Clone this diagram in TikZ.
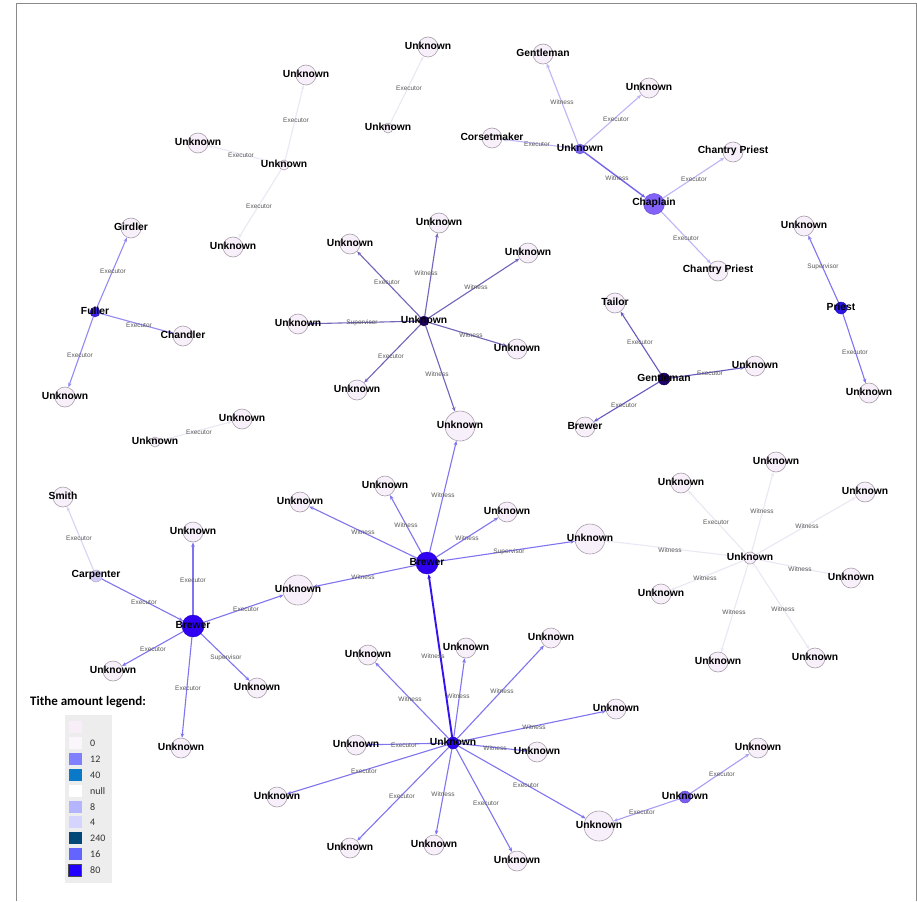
\documentclass[tikz,border=0pt]{standalone}
\usepackage{fontspec}
\setmainfont{Liberation Sans}
\newfontfamily\legfont{Carlito}
\usetikzlibrary{arrows.meta}
\pgfdeclarelayer{bglayer}
\pgfdeclarelayer{edgelayer}
\pgfsetlayers{bglayer,edgelayer,main}

\definecolor{nfill}{HTML}{F7EFF9}
\definecolor{nborder}{HTML}{A89EAA}
\definecolor{ePale}{HTML}{ECE7F4}
\definecolor{eLight}{HTML}{BDB5F5}
\definecolor{eMid}{HTML}{8074F0}
\definecolor{eGray}{HTML}{7463B8}
\definecolor{eCz}{HTML}{7464E8}
\definecolor{eThick}{HTML}{3414EE}
\definecolor{eMm}{HTML}{A89EF4}
\definecolor{eCS}{HTML}{D8D3F3}
\definecolor{legbg}{HTML}{EDEDED}
\definecolor{frameclr}{HTML}{8A8A8A}

\tikzset{
  nd/.style={circle, draw=nborder, fill=nfill, line width=0.6pt, inner sep=0pt},
  fnd/.style={circle, draw=#1!80!black, fill=#1, line width=0.4pt, inner sep=0pt},
  lbl/.style={font=\fontsize{10.3}{12}\selectfont\bfseries, inner sep=0pt, text=black},
  elab/.style={font=\fontsize{6.5}{7}\selectfont, text=black!65, inner sep=0pt},
  eg/.style={line width=1.1pt, -{Stealth[length=4.5pt,width=3.6pt]}},
  swatch/.style={minimum width=13pt, minimum height=12pt, inner sep=0pt, fill=#1},
  legnum/.style={font=\legfont\fontsize{10}{12}\selectfont, text=black!80, inner sep=0pt, anchor=west}
}

\begin{document}
\begin{tikzpicture}[x=1pt, y=-1pt]
\useasboundingbox (0,0) rectangle (917,901);
\begin{pgfonlayer}{bglayer}
\fill[white] (0,0) rectangle (917,901);
\end{pgfonlayer}
\draw[frameclr, line width=1pt] (16,901) -- (16,3.5) -- (916,3.5) -- (916,901);

% light nodes
\foreach \n/\x/\y/\sz/\t in {
 A1/428/47/20/Unknown, A2/388/128/10/Unknown,
 B1/306/75/20/Unknown, B2/284/165/10/Unknown, B3/198/143/20/Unknown, B4/233/247/20/Unknown,
 C1/543/54/20/Gentleman, C2/649/88/20/Unknown, C3/492/138/20/Corsetmaker,
 C5/733/152/20/Chantry Priest, C6/718/271/20/Chantry Priest,
 D1/804/226/20/Unknown, D2/869/393/20/Unknown,
 E1/131/228/20/Girdler, E2/183/336/20/Chandler, E3/65/397/20/Unknown,
 F1/242/419/20/Unknown, F2/155/442/10/Unknown,
 G1/439/223/20/Unknown, G2/350/244/20/Unknown, G3/528/253/20/Unknown, G4/298/324/20/Unknown,
 G5/517/349/20/Unknown, G6/357/390/20/Unknown, G7/460/426/30/Unknown,
 H1/615/303/20/Tailor, H2/755/366/20/Unknown, H3/585/427/20/Brewer,
 I1/385/486/20/Unknown, I2/300/502/20/Unknown, I3/507/512/20/Unknown, I4/590/539/30/Unknown, I5/298/590/30/Unknown,
 J0/750/558/12/Unknown, J1/776/462/20/Unknown, J2/681/483/20/Unknown, J3/865/492/20/Unknown,
 J4/851/578/20/Unknown, J5/661/594/20/Unknown, J6/718/662/20/Unknown, J7/815/658/20/Unknown,
 K2/63/497/20/Smith, K3/193/532/20/Unknown, K4/113/671/20/Unknown, K5/257/688/20/Unknown, K6/181/748/20/Unknown,
 L1/368/655/20/Unknown, L2/466/648/20/Unknown, L3/551/638/20/Unknown, L4/616/709/20/Unknown,
 L5/537/752/20/Unknown, L6/356/745/20/Unknown, L7/277/797/20/Unknown, L8/350/848/20/Unknown,
 L9/434/845/20/Unknown, L10/517/861/20/Unknown, L11/599/826/30/Unknown,
 M1/758/748/20/Unknown}
{
  \node[nd, minimum size=\sz pt] (\n) at (\x,\y) {};
}

% filled nodes
\definecolor{cC0}{HTML}{7B68F0}
\definecolor{cC4}{HTML}{8262F8}
\definecolor{cD0}{HTML}{2A14E6}
\definecolor{cE0}{HTML}{3A22E4}
\definecolor{cG0}{HTML}{200060}
\definecolor{cH0}{HTML}{1E0066}
\definecolor{cI0}{HTML}{3000F2}
\definecolor{cK1}{HTML}{D2CDF6}
\definecolor{cL0}{HTML}{2A04EA}
\definecolor{cM0}{HTML}{7A5CF0}
\node[fnd=cC0, minimum size=10pt] (C0) at (580,149) {};
\node[fnd=cC4, minimum size=21pt] (C4) at (654,204) {};
\node[fnd=cD0, minimum size=12pt] (D0) at (841,308) {};
\node[fnd=cE0, minimum size=10pt] (E0) at (95,312) {};
\node[fnd=cG0, minimum size=10pt] (G0) at (424,321) {};
\node[fnd=cH0, minimum size=12pt] (H0) at (664,379) {};
\node[fnd=cI0, minimum size=22pt] (I0) at (427,563) {};
\node[fnd=cI0, minimum size=22pt] (K0) at (193,626) {};
\node[fnd=cK1, minimum size=12pt] (K1) at (96,576) {};
\node[fnd=cL0, minimum size=12pt] (L0) at (453,743) {};
\node[fnd=cM0, minimum size=12pt] (M0) at (685,797) {};

% edges
\begin{pgfonlayer}{edgelayer}
\draw[eg, ePale] (A2) -- (A1);
\foreach \t in {B1,B3,B4} \draw[eg, ePale] (B2) -- (\t);
\draw[eg, eLight] (C0) -- (C1);
\draw[eg, eLight] (C0) -- (C2);
\draw[eg, eLight] (C0) -- (C3);
\draw[eg, eCz, line width=1.4pt] (C0) -- (C4);
\draw[eg, eLight] (C4) -- (C5);
\draw[eg, eLight] (C4) -- (C6);
\draw[eg, eMid] (D0) -- (D1);
\draw[eg, eMid] (D0) -- (D2);
\foreach \t in {E1,E2,E3} \draw[eg, eMid!85] (E0) -- (\t);
\draw[eg, ePale] (F2) -- (F1);
\foreach \t in {G1,G2,G3,G4,G5,G6,G7} \draw[eg, eGray] (G0) -- (\t);
\foreach \t in {H1,H2,H3} \draw[eg, eGray!90!blue] (H0) -- (\t);
\foreach \t in {G7,I1,I2,I3,I4,I5} \draw[eg, eMid] (I0) -- (\t);
\foreach \t in {I4,J1,J2,J3,J4,J5,J6,J7} \draw[eg, ePale] (J0) -- (\t);
\draw[eg, eCS] (K1) -- (K2);
\draw[eg, eMid] (K1) -- (K0);
\foreach \t in {K3,I5,K4,K5,K6} \draw[eg, eMid] (K0) -- (\t);
\draw[eg, eThick, line width=1.9pt] (L0) -- (I0);
\foreach \t in {L1,L2,L3,L4,L5,L6,L7,L8,L9,L10,L11} \draw[eg, eMid] (L0) -- (\t);
\draw[eg, eMm] (M0) -- (M1);
\draw[eg, eMm] (M0) -- (L11);
\end{pgfonlayer}

% edge labels
\foreach \x/\y/\t [count=\i] in {
 409/88/Executor, 296/120/Executor, 241/155/Executor, 259/206/Executor,
 562/102/Witness, 616/119/Executor, 537/144/Executor, 617/178/Witness, 694/179/Executor, 686/238/Executor,
 823/267/Supervisor, 855/352/Executor,
 113/271/Executor, 139/325/Executor, 80/355/Executor,
 199/432/Executor,
 426/273/Witness, 387/282/Executor, 476/287/Witness, 362/323/Supervisor, 471/335/Witness, 391/356/Executor, 437/374/Witness,
 640/342/Executor, 710/373/Executor, 624/405/Executor,
 443/495/Witness, 406/525/Witness, 363/532/Witness, 467/538/Witness, 509/552/Supervisor, 363/577/Witness,
 670/550/Witness, 716/522/Executor, 762/511/Witness, 807/526/Witness, 800/569/Witness, 705/578/Witness, 734/612/Witness, 783/609/Witness,
 79/538/Executor, 144/602/Executor, 193/580/Executor, 246/609/Executor, 153/649/Executor, 226/658/Supervisor, 188/688/Executor,
 433/656/Witness, 410/699/Witness, 458/696/Witness, 502/691/Witness, 534/727/Witness, 495/748/Witness,
 404/745/Executor, 364/771/Executor, 402/796/Executor, 443/794/Witness, 486/803/Executor, 526/785/Executor,
 722/774/Executor, 642/812/Executor}
{
  \node[elab] (el\i) at (\x,\y) {\t};
}

% node labels
\foreach \n/\t in {
 A1/Unknown, A2/Unknown, B1/Unknown, B2/Unknown, B3/Unknown, B4/Unknown,
 C0/Unknown, C1/Gentleman, C2/Unknown, C3/Corsetmaker, C4/Chaplain, C5/Chantry Priest, C6/Chantry Priest,
 D0/Priest, D1/Unknown, D2/Unknown,
 E0/Fuller, E1/Girdler, E2/Chandler, E3/Unknown,
 F1/Unknown, F2/Unknown,
 G0/Unknown, G1/Unknown, G2/Unknown, G3/Unknown, G4/Unknown, G5/Unknown, G6/Unknown, G7/Unknown,
 H0/Gentleman, H1/Tailor, H2/Unknown, H3/Brewer,
 I0/Brewer, I1/Unknown, I2/Unknown, I3/Unknown, I4/Unknown, I5/Unknown,
 J0/Unknown, J1/Unknown, J2/Unknown, J3/Unknown, J4/Unknown, J5/Unknown, J6/Unknown, J7/Unknown,
 K0/Brewer, K1/Carpenter, K2/Smith, K3/Unknown, K4/Unknown, K5/Unknown, K6/Unknown,
 L0/Unknown, L1/Unknown, L2/Unknown, L3/Unknown, L4/Unknown, L5/Unknown, L6/Unknown, L7/Unknown,
 L8/Unknown, L9/Unknown, L10/Unknown, L11/Unknown,
 M0/Unknown, M1/Unknown}
{
  \node[lbl] (\n-t) at ([yshift=1pt]\n.center) {\t};
}

% legend
\node[anchor=west, font=\legfont\fontsize{13}{15}\selectfont\bfseries, inner sep=0pt] (legtitle) at (30,702) {Tithe amount legend:};
\node[fill=legbg, minimum width=47pt, minimum height=168pt, inner sep=0pt, anchor=north west] (legbox) at (65,715) {};
\definecolor{lg1}{HTML}{F8EEF8}
\definecolor{lg2}{HTML}{FBF6FB}
\definecolor{lg3}{HTML}{8080FF}
\definecolor{lg4}{HTML}{0A7AC8}
\definecolor{lg5}{HTML}{FFFFFF}
\definecolor{lg6}{HTML}{B4B4FF}
\definecolor{lg7}{HTML}{D4D4FF}
\definecolor{lg8}{HTML}{004878}
\definecolor{lg9}{HTML}{6464FF}
\definecolor{lg10}{HTML}{2000FF}
\foreach \y/\t [count=\i] in {727/{}, 743/0, 759/12, 775/40, 791/null, 807/8, 822/4, 838/240, 854/16, 870/80}
{
  \node[swatch=lg\i] (sw\i) at (75,\y) {};
  \node[legnum] (sl\i) at (90,\y) {\t};
}
\draw[black!70, line width=0.5pt] (sw10.south west) rectangle (sw10.north east);
\end{tikzpicture}
\end{document}
